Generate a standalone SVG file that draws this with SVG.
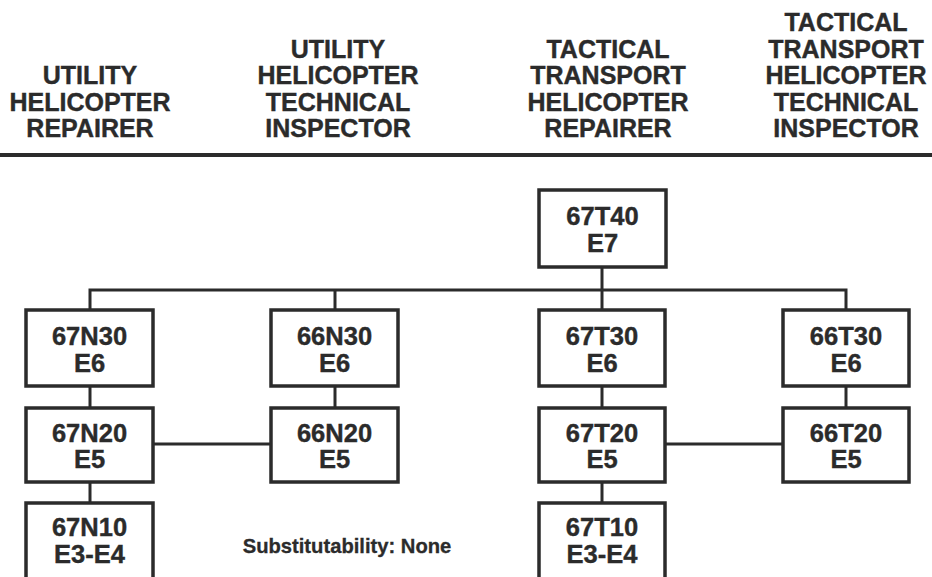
<svg xmlns="http://www.w3.org/2000/svg" width="932" height="577" viewBox="0 0 932 577">
<style>
.h{font-family:"Liberation Sans",Arial,sans-serif;font-weight:bold;font-size:25px;fill:#2b2b2b;stroke:#2b2b2b;stroke-width:0.4;text-anchor:middle}
.t{font-family:"Liberation Sans",Arial,sans-serif;font-weight:bold;font-size:25.5px;fill:#2b2b2b;stroke:#2b2b2b;stroke-width:0.4;text-anchor:middle}
.box{fill:#fff;stroke:#2b2b2b;stroke-width:3.5}
.c{stroke:#2b2b2b;stroke-width:3;fill:none}
</style>
<rect width="932" height="577" fill="#fff"/>
<g id="headers">
<text class="h" x="90" y="84">UTILITY</text>
<text class="h" x="90" y="110.5">HELICOPTER</text>
<text class="h" x="90" y="137">REPAIRER</text>
<text class="h" x="338" y="57.5">UTILITY</text>
<text class="h" x="338" y="84">HELICOPTER</text>
<text class="h" x="338" y="110.5">TECHNICAL</text>
<text class="h" x="338" y="137">INSPECTOR</text>
<text class="h" x="608" y="57.5">TACTICAL</text>
<text class="h" x="608" y="84">TRANSPORT</text>
<text class="h" x="608" y="110.5">HELICOPTER</text>
<text class="h" x="608" y="137">REPAIRER</text>
<text class="h" x="846" y="31">TACTICAL</text>
<text class="h" x="846" y="57.5">TRANSPORT</text>
<text class="h" x="846" y="84">HELICOPTER</text>
<text class="h" x="846" y="110.5">TECHNICAL</text>
<text class="h" x="846" y="137">INSPECTOR</text>
<line x1="0" y1="155" x2="932" y2="155" stroke="#2b2b2b" stroke-width="4"/>
</g>
<g id="connectors">
<line class="c" x1="602" y1="267" x2="602" y2="310"/>
<polyline class="c" points="90,310 90,290 846,290 846,310"/>
<line class="c" x1="335" y1="290" x2="335" y2="310"/>
<line class="c" x1="90" y1="386" x2="90" y2="408"/>
<line class="c" x1="335" y1="386" x2="335" y2="408"/>
<line class="c" x1="602" y1="386" x2="602" y2="408"/>
<line class="c" x1="846" y1="386" x2="846" y2="408"/>
<line class="c" x1="90" y1="482" x2="90" y2="503"/>
<line class="c" x1="602" y1="482" x2="602" y2="503"/>
<line class="c" x1="153" y1="444" x2="271" y2="444"/>
<line class="c" x1="665" y1="444" x2="783" y2="444"/>
</g>
<g id="n67T40"><rect class="box" x="539" y="190" width="127" height="77"/><text class="t" x="602.5" y="225">67T40</text><text class="t" x="602.5" y="252">E7</text></g>
<g id="n67N30"><rect class="box" x="26" y="310" width="127" height="76"/><text class="t" x="89.5" y="345">67N30</text><text class="t" x="89.5" y="372">E6</text></g>
<g id="n66N30"><rect class="box" x="271" y="310" width="127" height="76"/><text class="t" x="334.5" y="345">66N30</text><text class="t" x="334.5" y="372">E6</text></g>
<g id="n67T30"><rect class="box" x="539" y="310" width="126" height="76"/><text class="t" x="602" y="345">67T30</text><text class="t" x="602" y="372">E6</text></g>
<g id="n66T30"><rect class="box" x="783" y="310" width="126" height="76"/><text class="t" x="846" y="345">66T30</text><text class="t" x="846" y="372">E6</text></g>
<g id="n67N20"><rect class="box" x="26" y="408" width="127" height="74"/><text class="t" x="89.5" y="442">67N20</text><text class="t" x="89.5" y="468">E5</text></g>
<g id="n66N20"><rect class="box" x="271" y="408" width="127" height="74"/><text class="t" x="334.5" y="442">66N20</text><text class="t" x="334.5" y="468">E5</text></g>
<g id="n67T20"><rect class="box" x="539" y="408" width="126" height="74"/><text class="t" x="602" y="442">67T20</text><text class="t" x="602" y="468">E5</text></g>
<g id="n66T20"><rect class="box" x="783" y="408" width="126" height="74"/><text class="t" x="846" y="442">66T20</text><text class="t" x="846" y="468">E5</text></g>
<g id="n67N10"><rect class="box" x="26" y="503" width="127" height="80"/><text class="t" x="89.5" y="536">67N10</text><text class="t" x="89.5" y="563">E3-E4</text></g>
<g id="n67T10"><rect class="box" x="539" y="503" width="126" height="80"/><text class="t" x="602" y="536">67T10</text><text class="t" x="602" y="563">E3-E4</text></g>
<g id="note"><text x="347" y="553" font-family="Liberation Sans, Arial, sans-serif" font-weight="bold" font-size="20.2" fill="#2b2b2b" stroke="#2b2b2b" stroke-width="0.3" text-anchor="middle">Substitutability: None</text></g>
</svg>
